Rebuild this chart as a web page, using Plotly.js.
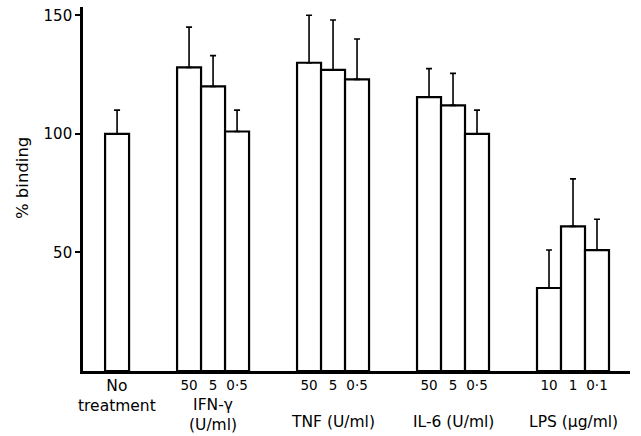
<!DOCTYPE html>
<html>
<head>
<meta charset="utf-8">
<script src="https://cdn.plot.ly/plotly-3.0.1.min.js"></script>
<style>html,body{margin:0;padding:0;background:#fff;}#chart{width:641px;height:436px;}</style>
</head>
<body>
<div id="chart"></div>
<script>
// ---- data ----
const groupNames = ["No<br>treatment", "IFN-γ<br>(U/ml)", "TNF (U/ml)", "IL-6 (U/ml)", "LPS (μg/ml)"];
const doseLabels = [[""], ["50", "5", "0·5"], ["50", "5", "0·5"], ["50", "5", "0·5"], ["10", "1", "0·1"]];
const bindingPct = [[100], [128, 120, 101], [130, 127, 123], [115.5, 112, 100], [35, 61, 51]];
const errorUp   = [[10], [17, 13, 9], [20, 21, 17], [12, 13.5, 10], [16, 20, 13]];
const yTicks = [50, 100, 150];

// ---- layout of bars: groups of adjacent bars separated by two empty slots ----
const GAP = 2;
const xs = [], ys = [], es = [], tickText = [], groupCenters = [];
let start = 0;
groupNames.forEach((g, gi) => {
  const n = bindingPct[gi].length;
  for (let i = 0; i < n; i++) {
    xs.push(start + i);
    ys.push(bindingPct[gi][i]);
    es.push(errorUp[gi][i]);
    tickText.push(doseLabels[gi][i]);
  }
  groupCenters.push(start + (n - 1) / 2);
  start += n + GAP;
});

const FONT = "DejaVu Sans, sans-serif";
// vertical placement (pixels below the axis) of each group label
const labelShift = [4, 23, 40, 40, 40];

const annotations = groupNames.map((g, gi) => ({
  text: g, x: groupCenters[gi], xref: "x", y: 0, yref: "paper",
  yanchor: "top", xanchor: "center", showarrow: false,
  yshift: -labelShift[gi], font: {family: FONT, size: 15.5, color: "#000"}
}));
annotations.push({
  text: "% binding", textangle: -90, xref: "paper", x: 0, xshift: -61,
  yref: "paper", y: 0.53, showarrow: false, xanchor: "center", yanchor: "middle",
  font: {family: FONT, size: 16.5, color: "#000"}
});

const trace = {
  type: "bar", x: xs, y: ys, width: 1,
  marker: {color: "#fff", line: {color: "#000", width: 2.2}},
  error_y: {type: "data", symmetric: false, array: es, arrayminus: es.map(() => 0),
            color: "#000", thickness: 1.6, width: 3},
  hoverinfo: "none"
};

const layout = {
  width: 641, height: 436,
  margin: {l: 83, r: 11, t: 7, b: 65},
  paper_bgcolor: "#fff", plot_bgcolor: "#fff",
  showlegend: false,
  font: {family: FONT, color: "#000"},
  xaxis: {range: [-1.42, 21.375], showline: true, linewidth: 2.5, linecolor: "#000",
          showgrid: false, zeroline: false, ticks: "", tickvals: xs, ticktext: tickText,
          tickfont: {family: FONT, size: 13.5, color: "#000"}, fixedrange: true},
  yaxis: {range: [0, 153.5], showline: true, linewidth: 2.8, linecolor: "#000",
          showgrid: false, zeroline: false, ticks: "outside", ticklen: 5, tickwidth: 2,
          tickcolor: "#000", tickvals: yTicks, ticktext: yTicks.map(String),
          tickfont: {family: FONT, size: 15, color: "#000"}, fixedrange: true},
  annotations: annotations
};

Plotly.newPlot("chart", [trace], layout, {displayModeBar: false, staticPlot: true});
</script>
</body>
</html>
